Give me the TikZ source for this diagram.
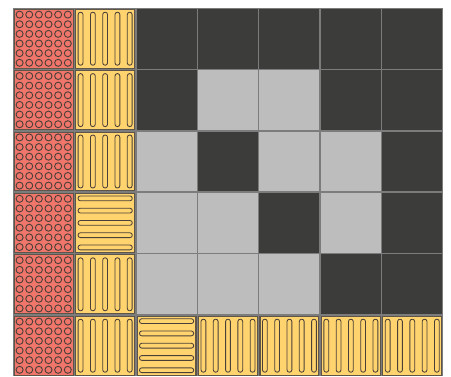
\documentclass[tikz,border=0pt]{standalone}
\definecolor{tred}{HTML}{F0756A}
\definecolor{tyel}{HTML}{FFD36E}
\definecolor{tdark}{HTML}{3C3C3A}
\definecolor{tlight}{HTML}{BDBDBD}
\definecolor{tgrid}{HTML}{7C7C7C}
\definecolor{tedge}{HTML}{5E5548}
\definecolor{tline}{HTML}{4A4038}
\begin{document}
\begin{tikzpicture}[x=1pt,y=-1pt,
  tileedge/.style={draw=tedge,line width=1.1pt},
  dotring/.style={draw=tline,line width=0.9pt},
  capsule/.style={draw=tline,line width=0.85pt,rounded corners=2.3pt}]
\useasboundingbox (0,0) rectangle (451,376);
\def\W{61.43}\def\H{61.4}
\newcommand\cellD[2]{\fill[tdark] (#1+0.75,#2+0.75) rectangle (#1+\W-0.75,#2+\H-0.75);}
\newcommand\cellL[2]{\fill[tlight] (#1+0.75,#2+0.75) rectangle (#1+\W-0.75,#2+\H-0.75);}
\newcommand\cellR[2]{%
  \filldraw[fill=tred,tileedge] (#1+1.3,#2+1.3) rectangle (#1+\W-1.3,#2+\H-1.3);
  \foreach \i in {0,...,5}{\foreach \j in {0,...,5}{
    \draw[dotring] (#1+6.6+\i*9.64,#2+6.6+\j*9.64) circle[radius=3.5pt];}}}
\newcommand\cellV[2]{%
  \filldraw[fill=tyel,tileedge] (#1+1.3,#2+1.3) rectangle (#1+\W-1.3,#2+\H-1.3);
  \foreach \k in {0.1,0.3,0.5,0.7,0.9}{
    \draw[capsule] (#1+\k*\W-2.4,#2+4.2) rectangle (#1+\k*\W+2.4,#2+\H-4.2);}}
\newcommand\cellH[2]{%
  \filldraw[fill=tyel,tileedge] (#1+1.3,#2+1.3) rectangle (#1+\W-1.3,#2+\H-1.3);
  \foreach \k in {0.1,0.3,0.5,0.7,0.9}{
    \draw[capsule] (#1+3.6,#2+\k*\H-2.4) rectangle (#1+\W-3.6,#2+\k*\H+2.4);}}
\fill[tgrid] (13,8) rectangle (13+7*\W,8+6*\H);
\foreach \r/\row in {0/{R,V,D,D,D,D,D},1/{R,V,D,L,L,D,D},2/{R,V,L,D,L,L,D},3/{R,H,L,L,D,L,D},4/{R,V,L,L,L,D,D},5/{R,V,H,V,V,V,V}}{
  \foreach \t [count=\c from 0] in \row {
    \pgfmathsetmacro\xx{13+\c*\W}
    \pgfmathsetmacro\yy{8+\r*\H}
    \csname cell\t\endcsname{\xx}{\yy}
  }
}
\end{tikzpicture}
\end{document}
